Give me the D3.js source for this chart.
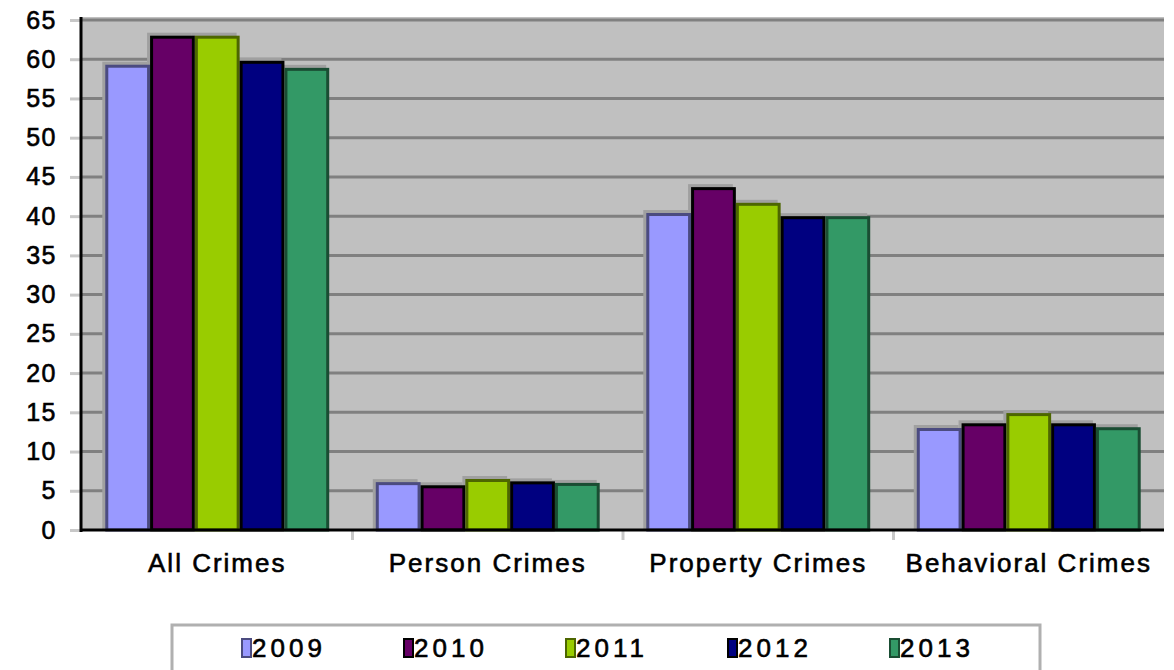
<!DOCTYPE html>
<html>
<head>
<meta charset="utf-8">
<script src="https://cdn.jsdelivr.net/npm/d3@7"></script>
<style>
  body { margin: 0; background: #fff; }
  text { font-family: Arial, "Liberation Sans", sans-serif; }
</style>
</head>
<body>
<div id="chart"></div>
<script>
// data
var categories = ["All Crimes", "Person Crimes", "Property Crimes", "Behavioral Crimes"];
var years = ["2009", "2010", "2011", "2012", "2013"];
var colors = ["#9999ff", "#660066", "#99cc00", "#000080", "#339966"];
var edges = ["#4b4b80", "#000000", "#4d6600", "#000000", "#1a4d33"];
var v2009 = [59.3, 6.1, 40.4, 13.0];
var v2010 = [63.0, 5.7, 43.7, 13.6];
var v2011 = [63.0, 6.5, 41.7, 14.9];
var v2012 = [59.8, 6.2, 40.0, 13.6];
var v2013 = [58.9, 6.0, 40.0, 13.1];
var yTicks = d3.range(0, 66, 5);

var series = [v2009, v2010, v2011, v2012, v2013];

var W = 1174, H = 670;
var pLeft = 82, pRight = 1164, pTop = 20, pBottom = 530;

var svg = d3.select("#chart").append("svg")
    .attr("width", W)
    .attr("height", H);

var x0 = d3.scaleBand().domain(categories).range([pLeft, pRight]).paddingInner(0).paddingOuter(0);
var x1 = d3.scaleBand().domain(years).range([0, x0.bandwidth()]).paddingOuter(0.52);
var y = d3.scaleLinear().domain([0, 65]).range([pBottom, pTop]);

// plot background
svg.append("rect")
    .attr("x", pLeft).attr("y", pTop - 3)
    .attr("width", pRight - pLeft).attr("height", pBottom - pTop + 3)
    .attr("fill", "#c0c0c0");

// gridlines
svg.append("g").selectAll("line")
    .data(yTicks.filter(function(d) { return d > 0; }))
  .join("line")
    .attr("x1", pLeft).attr("x2", pRight)
    .attr("y1", function(d) { return y(d); })
    .attr("y2", function(d) { return y(d); })
    .attr("stroke", "#808080")
    .attr("stroke-width", 3);

// y axis
var yAxis = svg.append("g")
    .attr("transform", "translate(" + (pLeft - 2) + ",0)")
    .call(d3.axisLeft(y).tickValues(yTicks).tickSize(10).tickPadding(13));
yAxis.select(".domain").remove();
yAxis.selectAll("line").attr("stroke", "#c8c8c8").attr("stroke-width", 3);
yAxis.selectAll("text")
    .attr("font-size", 25)
    .attr("letter-spacing", 1.5)
    .attr("fill", "#000")
    .attr("stroke", "#000")
    .attr("stroke-width", 0.6)
    .attr("font-family", "Arial, 'Liberation Sans', sans-serif");

// bars
var groups = svg.append("g").selectAll("g")
    .data(categories)
  .join("g")
    .attr("transform", function(d) { return "translate(" + x0(d) + ",0)"; });

groups.selectAll("rect.shadow")
    .data(function(d, i) { return series.map(function(s, k) { return { k: k, v: s[i] }; }); })
  .join("rect")
    .attr("class", "shadow")
    .attr("x", function(d) { return x1(years[d.k]) - 3; })
    .attr("y", function(d) { return y(d.v) - 3; })
    .attr("width", x1.bandwidth())
    .attr("height", function(d) { return pBottom - y(d.v) + 3; })
    .attr("fill", "#a0a0a0");

groups.selectAll("rect.bar")
    .data(function(d, i) { return series.map(function(s, k) { return { k: k, v: s[i] }; }); })
  .join("rect")
    .attr("class", "bar")
    .attr("x", function(d) { return x1(years[d.k]) + 1.5; })
    .attr("y", function(d) { return y(d.v) + 1.5; })
    .attr("width", x1.bandwidth() - 3)
    .attr("height", function(d) { return pBottom - y(d.v) - 1.5; })
    .attr("fill", function(d) { return colors[d.k]; })
    .attr("stroke", function(d) { return edges[d.k]; })
    .attr("stroke-width", 3);

// x axis
var xAxis = svg.append("g")
    .attr("transform", "translate(0," + pBottom + ")")
    .call(d3.axisBottom(x0).tickSize(0).tickPadding(24));
xAxis.select(".domain").remove();
xAxis.selectAll("text")
    .attr("font-size", 26)
    .attr("letter-spacing", 2)
    .attr("fill", "#000")
    .attr("stroke", "#000")
    .attr("stroke-width", 0.6)
    .attr("font-family", "Arial, 'Liberation Sans', sans-serif");

// category dividers below the axis
svg.append("g").selectAll("line")
    .data(categories.slice(1))
  .join("line")
    .attr("x1", function(d) { return x0(d); })
    .attr("x2", function(d) { return x0(d); })
    .attr("y1", pBottom).attr("y2", pBottom + 10)
    .attr("stroke", "#c8c8c8").attr("stroke-width", 3);

// axis lines
svg.append("line")
    .attr("x1", pLeft - 1).attr("x2", pLeft - 1)
    .attr("y1", pTop - 3).attr("y2", pBottom + 2)
    .attr("stroke", "#000").attr("stroke-width", 3);
svg.append("line")
    .attr("x1", pLeft - 2).attr("x2", pRight)
    .attr("y1", pBottom).attr("y2", pBottom)
    .attr("stroke", "#000").attr("stroke-width", 3);

// legend
var legend = svg.append("g");
legend.append("rect")
    .attr("x", 172).attr("y", 625)
    .attr("width", 868).attr("height", 60)
    .attr("fill", "#fff")
    .attr("stroke", "#b0b0b0")
    .attr("stroke-width", 3);

var item = legend.selectAll("g.item")
    .data(years)
  .join("g")
    .attr("class", "item")
    .attr("transform", function(d, i) { return "translate(" + (241 + i * 162) + ",637)"; });

item.append("rect")
    .attr("x", 1).attr("y", 2)
    .attr("width", 9).attr("height", 18)
    .attr("fill", function(d, i) { return colors[i]; })
    .attr("stroke", function(d, i) { return edges[i]; })
    .attr("stroke-width", 2);

item.append("text")
    .attr("x", 11).attr("y", 20)
    .attr("font-size", 26)
    .attr("letter-spacing", 4)
    .attr("fill", "#000")
    .attr("stroke", "#000")
    .attr("stroke-width", 0.6)
    .text(function(d) { return d; });
</script>
</body>
</html>
